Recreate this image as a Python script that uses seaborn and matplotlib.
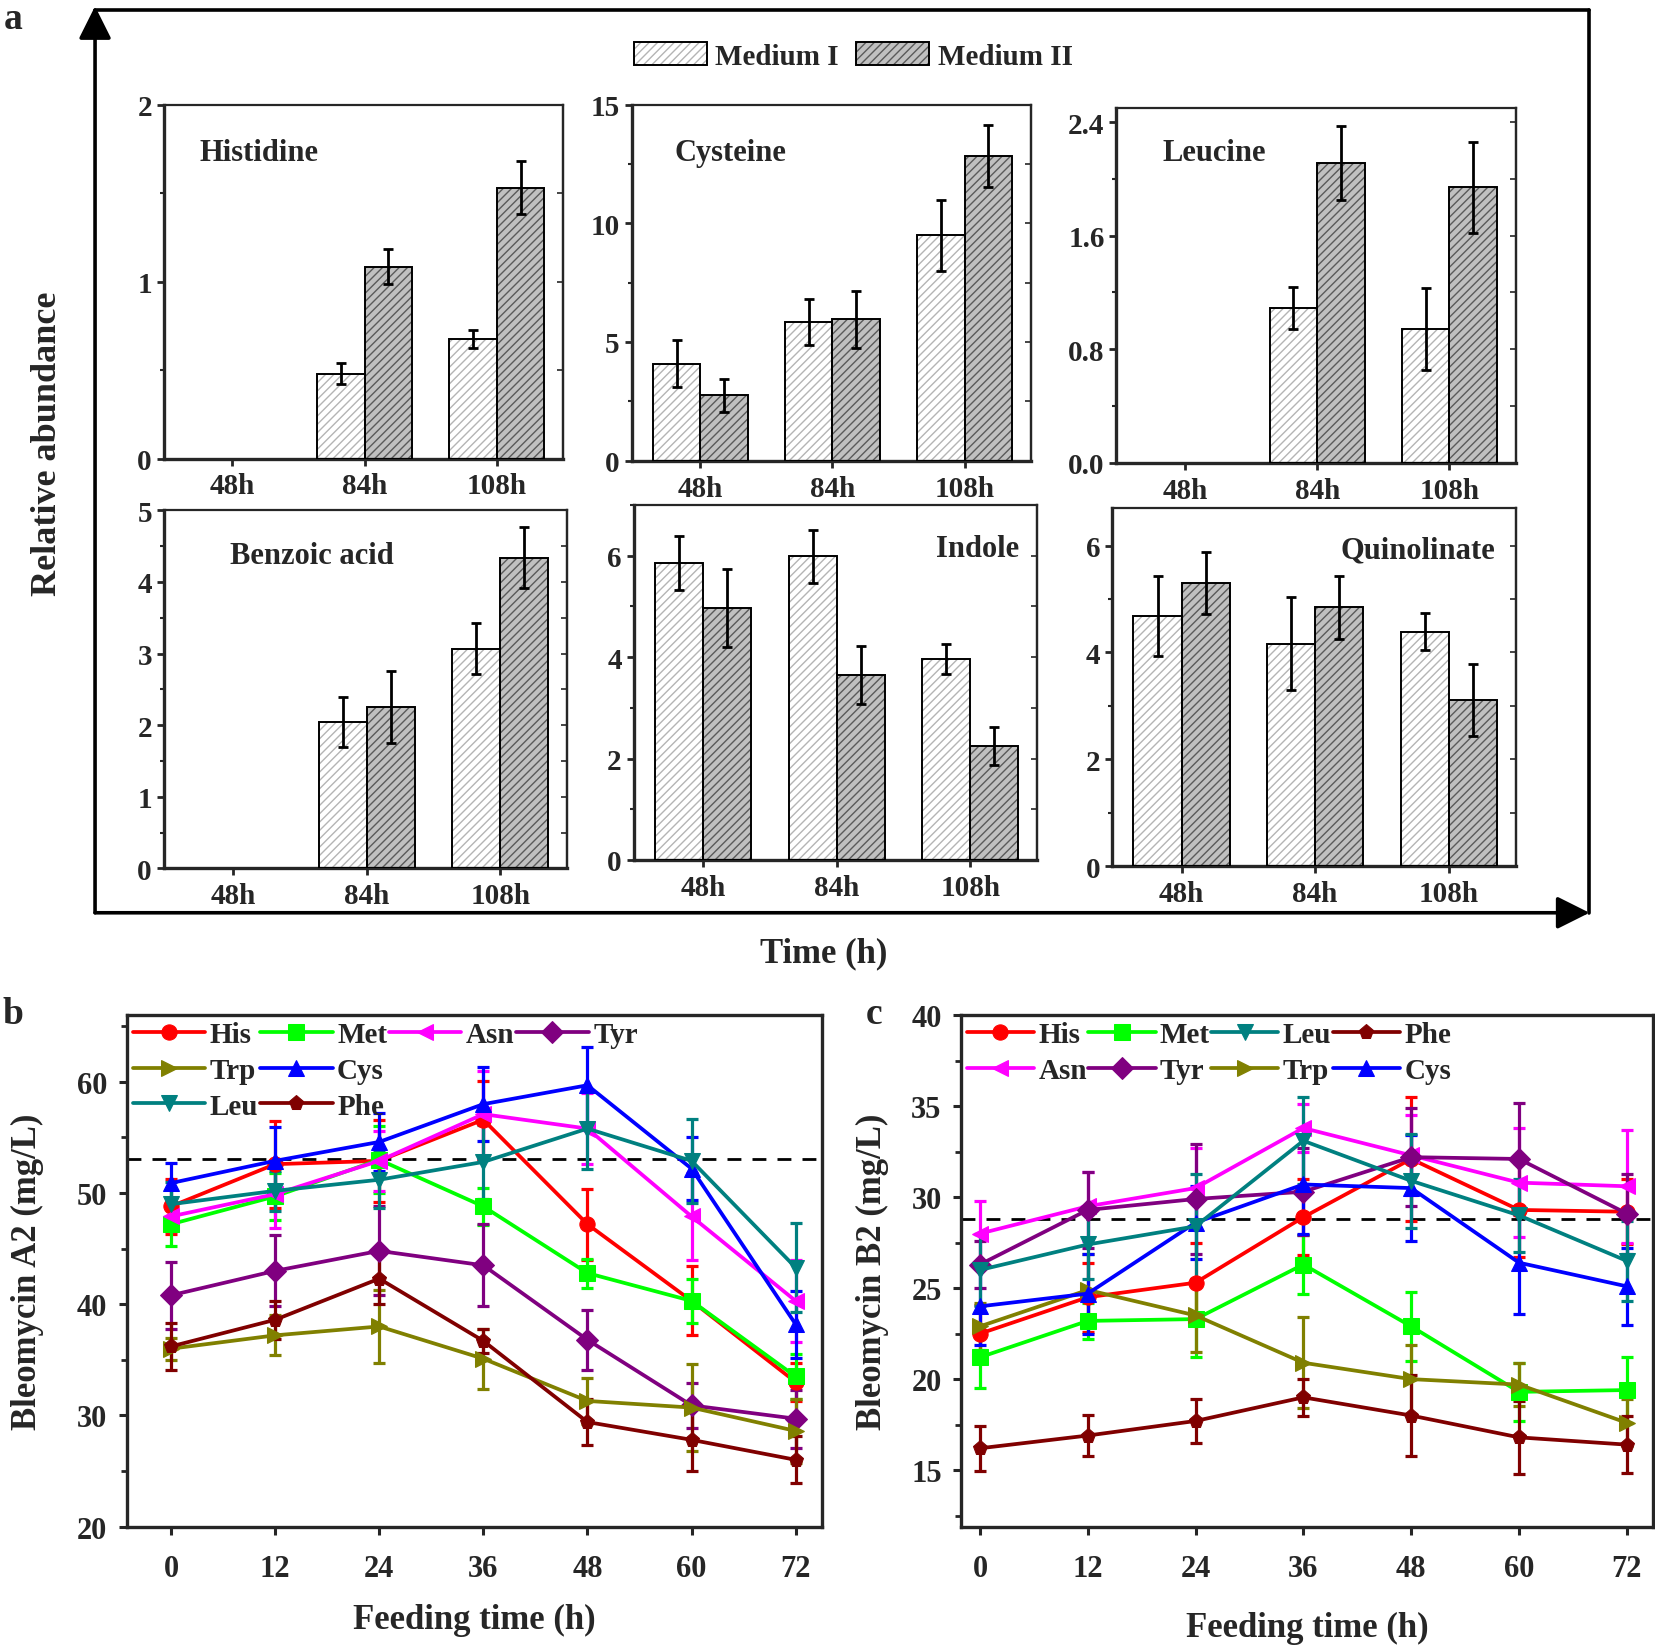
import numpy as np
import pandas as pd
import matplotlib
matplotlib.use('Agg')
import matplotlib.pyplot as plt
import matplotlib.colors as mcolors
import seaborn as sns
from matplotlib.patches import Rectangle, Patch, FancyArrowPatch
from matplotlib.lines import Line2D
from matplotlib.ticker import MultipleLocator

# ---------------- data: panel a ----------------
times_a = ['48h', '84h', '108h']
media = ['Medium I', 'Medium II']

his_m1 = [0.0, 0.48, 0.675]
his_m2 = [0.0, 1.085, 1.53]
his_e1 = [0.0, 0.06, 0.05]
his_e2 = [0.0, 0.10, 0.15]

cys_m1 = [4.09, 5.84, 9.49]
cys_m2 = [2.76, 5.95, 12.83]
cys_e1 = [1.0, 0.95, 1.5]
cys_e2 = [0.7, 1.2, 1.3]

leu_m1 = [0.0, 1.09, 0.94]
leu_m2 = [0.0, 2.11, 1.94]
leu_e1 = [0.0, 0.15, 0.29]
leu_e2 = [0.0, 0.26, 0.32]

ben_m1 = [0.0, 2.04, 3.07]
ben_m2 = [0.0, 2.25, 4.34]
ben_e1 = [0.0, 0.35, 0.36]
ben_e2 = [0.0, 0.50, 0.43]

ind_m1 = [5.86, 5.99, 3.96]
ind_m2 = [4.96, 3.64, 2.25]
ind_e1 = [0.53, 0.52, 0.29]
ind_e2 = [0.77, 0.57, 0.37]

qui_m1 = [4.68, 4.16, 4.39]
qui_m2 = [5.30, 4.85, 3.11]
qui_e1 = [0.75, 0.87, 0.35]
qui_e2 = [0.58, 0.59, 0.67]

# ---------------- data: panels b, c ----------------
feed_t = [0, 12, 24, 36, 48, 60, 72]

a2_his = [48.8, 52.6, 52.9, 56.6, 47.2, 40.3, 33.0]
a2_met = [47.2, 49.7, 53.0, 48.8, 42.8, 40.3, 33.5]
a2_asn = [47.9, 49.9, 52.9, 57.1, 55.8, 47.9, 40.3]
a2_tyr = [40.8, 43.0, 44.8, 43.5, 36.8, 30.9, 29.7]
a2_trp = [36.0, 37.2, 38.0, 35.1, 31.3, 30.7, 28.6]
a2_cys = [50.9, 52.9, 54.6, 58.0, 59.7, 52.2, 38.2]
a2_leu = [49.0, 50.2, 51.2, 52.8, 55.8, 52.9, 43.3]
a2_phe = [36.2, 38.6, 42.3, 36.7, 29.4, 27.8, 26.0]

a2_his_e = [2.5, 3.9, 3.7, 3.5, 3.2, 3.1, 1.7]
a2_met_e = [2.0, 2.1, 3.0, 1.7, 1.3, 2.0, 2.0]
a2_asn_e = [1.3, 3.0, 2.7, 3.9, 3.2, 3.9, 3.7]
a2_tyr_e = [3.0, 3.2, 4.0, 3.7, 2.7, 2.0, 2.6]
a2_trp_e = [1.0, 1.8, 3.3, 2.7, 2.1, 3.9, 2.9]
a2_cys_e = [1.8, 3.0, 2.6, 3.3, 3.4, 2.8, 3.0]
a2_leu_e = [2.0, 1.8, 2.5, 3.3, 3.6, 3.8, 4.0]
a2_phe_e = [2.1, 1.7, 2.3, 1.1, 2.1, 2.8, 2.1]

b2_his = [22.5, 24.5, 25.3, 28.9, 32.1, 29.3, 29.2]
b2_met = [21.2, 23.2, 23.3, 26.3, 22.9, 19.3, 19.4]
b2_leu = [26.0, 27.4, 28.4, 33.1, 30.9, 29.0, 26.5]
b2_phe = [16.2, 16.9, 17.7, 19.0, 18.0, 16.8, 16.4]
b2_asn = [28.0, 29.5, 30.5, 33.8, 32.3, 30.8, 30.6]
b2_tyr = [26.3, 29.3, 29.9, 30.3, 32.2, 32.1, 29.1]
b2_trp = [22.9, 24.9, 23.5, 20.9, 20.0, 19.7, 17.6]
b2_cys = [24.0, 24.7, 28.6, 30.7, 30.5, 26.4, 25.1]

b2_his_e = [1.6, 1.9, 2.2, 2.1, 3.4, 2.6, 1.8]
b2_met_e = [1.7, 1.0, 2.1, 1.6, 1.9, 1.6, 1.8]
b2_leu_e = [2.0, 1.9, 2.9, 2.4, 2.6, 2.0, 2.2]
b2_phe_e = [1.25, 1.15, 1.2, 1.0, 2.2, 2.0, 1.55]
b2_asn_e = [1.8, 1.9, 2.2, 1.3, 2.2, 3.0, 3.1]
b2_tyr_e = [1.3, 2.1, 3.0, 2.4, 2.7, 3.1, 2.2]
b2_trp_e = [1.3, 2.0, 2.0, 2.5, 1.9, 1.2, 1.3]
b2_cys_e = [2.1, 2.2, 2.0, 2.7, 2.9, 2.8, 2.1]

a2_ref = 53.1
b2_ref = 28.8

aa_names = ['His', 'Met', 'Asn', 'Tyr', 'Trp', 'Cys', 'Leu', 'Phe']

# ---------------- styles ----------------
aa_colors = {'His': '#ff0000', 'Met': '#00ff00', 'Asn': '#ff00ff', 'Tyr': '#800080',
             'Trp': '#808000', 'Cys': '#0000ff', 'Leu': '#008080', 'Phe': '#800000'}
aa_markers = {'His': 'o', 'Met': 's', 'Asn': '<', 'Tyr': 'D',
              'Trp': '>', 'Cys': '^', 'Leu': 'v', 'Phe': 'p'}

sns.set_style('ticks')
plt.rcParams['font.family'] = ['Liberation Serif', 'DejaVu Serif']
plt.rcParams['font.weight'] = 'bold'
plt.rcParams['axes.labelweight'] = 'bold'
plt.rcParams['hatch.linewidth'] = 1.0

fig = plt.figure(figsize=(16.56, 16.49), dpi=100)

fill_col = {'Medium I': '#ffffff', 'Medium II': '#c0c0c0'}
hatch_col = {'Medium I': '#b4b4b4', 'Medium II': '#5a5a5a'}
HATCH = '////'


def bar_panel(rect, m1, m2, e1, e2, ylim, major, minor, fmt, title, tx, ty, ha):
    ax = fig.add_axes(rect)
    df = pd.DataFrame({'time': times_a * 2,
                       'medium': [media[0]] * 3 + [media[1]] * 3,
                       'value': list(m1) + list(m2),
                       'err': list(e1) + list(e2)})
    sns.barplot(data=df, x='time', y='value', hue='medium', order=times_a,
                hue_order=media, palette=fill_col, width=0.72, gap=0,
                errorbar=None, legend=False, saturation=1, ax=ax)
    patches = list(ax.patches)
    for p in patches:
        xc = p.get_x() + p.get_width() / 2
        cat = int(round(xc))
        med = media[0] if xc < cat else media[1]
        row = df[(df['time'] == times_a[cat]) & (df['medium'] == med)].iloc[0]
        p.set_facecolor(fill_col[med])
        p.set_edgecolor(hatch_col[med])
        p.set_hatch(HATCH)
        p.set_linewidth(0)
        if row['value'] > 0:
            ax.add_patch(Rectangle((p.get_x(), p.get_y()), p.get_width(), p.get_height(),
                                   fill=False, edgecolor='black', lw=1.4, zorder=3))
            ax.errorbar([xc], [row['value']], yerr=[row['err']], fmt='none',
                        ecolor='black', elinewidth=2.0, capsize=3.5, capthick=2.0, zorder=4)
    ax.set_xlim(-0.52, 2.5)
    ax.set_ylim(*ylim)
    ax.yaxis.set_major_locator(MultipleLocator(major))
    ax.yaxis.set_minor_locator(MultipleLocator(minor))
    ax.yaxis.set_major_formatter(matplotlib.ticker.FormatStrFormatter(fmt))
    ax.set_xlabel('')
    ax.set_ylabel('')
    for s in ['left', 'bottom']:
        ax.spines[s].set_linewidth(2.4)
    for s in ['top', 'right']:
        ax.spines[s].set_linewidth(1.6)
    ax.tick_params(axis='both', which='major', direction='out', length=5, width=2,
                   labelsize=21)
    ax.tick_params(axis='x', which='major', pad=5)
    ax.tick_params(axis='y', which='minor', direction='out', length=3, width=1.5)
    for lab in ax.get_xticklabels() + ax.get_yticklabels():
        lab.set_fontweight('bold')
    sec = ax.secondary_yaxis('right')
    sec.yaxis.set_major_locator(MultipleLocator(minor))
    sec.tick_params(direction='in', length=4, width=1.2, labelright=False)
    sec.spines['right'].set_linewidth(1.6)
    ax.text(tx, ty, title, transform=ax.transAxes, ha=ha, va='center',
            fontsize=22, fontweight='bold')
    return ax


F_W, F_H = 1568.0, 1561.0


def rect_from(l, r, t, b):
    return [l / F_W, 1 - b / F_H, (r - l) / F_W, (b - t) / F_H]


bar_panel(rect_from(155, 533, 100, 435), his_m1, his_m2, his_e1, his_e2,
          (0, 2), 1, 0.5, '%g', 'Histidine', 0.09, 0.866, 'left')
bar_panel(rect_from(598, 976, 100, 437), cys_m1, cys_m2, cys_e1, cys_e2,
          (0, 15), 5, 2.5, '%g', 'Cysteine', 0.108, 0.866, 'left')
bar_panel(rect_from(1057, 1435, 103, 439), leu_m1, leu_m2, leu_e1, leu_e2,
          (0, 2.5), 0.8, 0.4, '%.1f', 'Leucine', 0.116, 0.875, 'left')
bar_panel(rect_from(155, 537, 484, 823), ben_m1, ben_m2, ben_e1, ben_e2,
          (0, 5), 1, 0.5, '%g', 'Benzoic acid', 0.165, 0.873, 'left')
bar_panel(rect_from(600, 982, 479, 815), ind_m1, ind_m2, ind_e1, ind_e2,
          (0, 7), 2, 1, '%g', 'Indole', 0.955, 0.878, 'right')
bar_panel(rect_from(1053, 1435, 482, 821), qui_m1, qui_m2, qui_e1, qui_e2,
          (0, 6.7), 2, 1, '%g', 'Quinolinate', 0.95, 0.882, 'right')

# legend of panel a
leg_handles = []
for m in media:
    fill = Patch(facecolor=fill_col[m], edgecolor=hatch_col[m], hatch=HATCH, lw=0)
    outline = Patch(facecolor='none', edgecolor='black', lw=1.4)
    leg_handles.append((fill, outline))
fig.legend(leg_handles, ['Medium I', 'Medium II'], ncol=2, loc='center',
           bbox_to_anchor=(808 / F_W, 1 - 54 / F_H), frameon=False,
           prop={'size': 21, 'weight': 'bold'}, handlelength=2.5, handleheight=0.8,
           handletextpad=0.3, columnspacing=0.6,
           handler_map={tuple: matplotlib.legend_handler.HandlerTuple(ndivide=1)})

# frame with arrows for panel a
fx0, fx1 = 90 / F_W, 1505 / F_W
fy0, fy1 = 1 - 865 / F_H, 1 - 10 / F_H
fig.add_artist(Line2D([fx0, fx1], [fy1, fy1], transform=fig.transFigure, color='k', lw=2.6))
fig.add_artist(Line2D([fx1, fx1], [fy1, fy0], transform=fig.transFigure, color='k', lw=2.6))
fig.add_artist(FancyArrowPatch((fx0, fy0), (fx0, fy1 + 0.002), transform=fig.transFigure,
                               arrowstyle='-|>,head_length=1.0,head_width=0.5',
                               mutation_scale=20, lw=2.6, color='k', shrinkA=0, shrinkB=0))
fig.add_artist(FancyArrowPatch((fx0, fy0), (fx1, fy0), transform=fig.transFigure,
                               arrowstyle='-|>,head_length=1.0,head_width=0.5',
                               mutation_scale=20, lw=2.6, color='k', shrinkA=0, shrinkB=0))
fig.text(45 / F_W, 1 - 420 / F_H, 'Relative abundance', rotation=90, ha='center',
         va='center', fontsize=26, fontweight='bold')
fig.text(780 / F_W, 1 - 903 / F_H, 'Time (h)', ha='center', va='center',
         fontsize=25, fontweight='bold')
fig.text(12 / F_W, 1 - 18 / F_H, 'a', ha='center', va='center', fontsize=27, fontweight='bold')
fig.text(12 / F_W, 1 - 960 / F_H, 'b', ha='center', va='center', fontsize=27, fontweight='bold')
fig.text(828 / F_W, 1 - 960 / F_H, 'c', ha='center', va='center', fontsize=27, fontweight='bold')


def line_panel(rect, series, errs, ref, ylim, xlim, major, minor, ylabel, legend_order,
               ncol, ylabelpad, xlabelpad, hlen):
    ax = fig.add_axes(rect)
    rows = []
    for name in aa_names:
        for t, v in zip(feed_t, series[name]):
            rows.append({'t': t, 'v': v, 'aa': name})
    df = pd.DataFrame(rows)
    sns.lineplot(data=df, x='t', y='v', hue='aa', style='aa', hue_order=aa_names,
                 style_order=aa_names, palette=aa_colors, markers=aa_markers,
                 dashes=False, errorbar=None, legend=False, sort=False,
                 linewidth=2.7, markersize=11, ax=ax)
    handle = {}
    for ln in list(ax.lines):
        c = mcolors.to_hex(ln.get_color())
        for name in aa_names:
            if mcolors.to_hex(aa_colors[name]) == c:
                handle[name] = ln
                ln.set_markeredgecolor(aa_colors[name])
                ln.set_markerfacecolor(aa_colors[name])
                ln.set_zorder(3)
    for name in aa_names:
        ax.errorbar(feed_t, series[name], yerr=errs[name], fmt='none',
                    ecolor=aa_colors[name], elinewidth=2.3, capsize=4.5,
                    capthick=2.3, zorder=2.5)
    ax.axhline(ref, color='black', lw=2.0, dashes=(5, 4), zorder=1)
    ax.set_xlim(*xlim)
    ax.set_ylim(*ylim)
    ax.set_xticks(feed_t)
    ax.yaxis.set_major_locator(MultipleLocator(major))
    ax.yaxis.set_minor_locator(MultipleLocator(minor))
    for s in ax.spines.values():
        s.set_linewidth(2.4)
    ax.tick_params(axis='both', which='major', direction='out', length=6, width=2.2,
                   labelsize=22, pad=8)
    ax.tick_params(axis='x', which='major', pad=14)
    ax.tick_params(axis='y', which='minor', direction='out', length=4, width=2.0)
    for lab in ax.get_xticklabels() + ax.get_yticklabels():
        lab.set_fontweight('bold')
    ax.set_xlabel('Feeding time (h)', fontsize=25, fontweight='bold', labelpad=xlabelpad)
    ax.set_ylabel(ylabel, fontsize=25, fontweight='bold', labelpad=ylabelpad)
    hs, ls = [], []
    for name in legend_order:
        if name is None:
            hs.append(Line2D([], [], linestyle='none', marker='none'))
            ls.append('')
        else:
            hs.append(handle[name])
            ls.append(name)
    ax.legend(hs, ls, ncol=ncol, loc='upper left', bbox_to_anchor=(0.0, 1.0),
              frameon=False, prop={'size': 21, 'weight': 'bold'}, handlelength=hlen,
              handletextpad=0.15, columnspacing=0.05, labelspacing=0.3,
              borderaxespad=0.1, borderpad=0.1)
    return ax


a2_series = {'His': a2_his, 'Met': a2_met, 'Asn': a2_asn, 'Tyr': a2_tyr,
             'Trp': a2_trp, 'Cys': a2_cys, 'Leu': a2_leu, 'Phe': a2_phe}
a2_errs = {'His': a2_his_e, 'Met': a2_met_e, 'Asn': a2_asn_e, 'Tyr': a2_tyr_e,
           'Trp': a2_trp_e, 'Cys': a2_cys_e, 'Leu': a2_leu_e, 'Phe': a2_phe_e}
b2_series = {'His': b2_his, 'Met': b2_met, 'Asn': b2_asn, 'Tyr': b2_tyr,
             'Trp': b2_trp, 'Cys': b2_cys, 'Leu': b2_leu, 'Phe': b2_phe}
b2_errs = {'His': b2_his_e, 'Met': b2_met_e, 'Asn': b2_asn_e, 'Tyr': b2_tyr_e,
           'Trp': b2_trp_e, 'Cys': b2_cys_e, 'Leu': b2_leu_e, 'Phe': b2_phe_e}

line_panel(rect_from(120, 778, 962, 1446), a2_series, a2_errs, a2_ref, (20, 66),
           (-5.1, 75), 10, 5, 'Bleomycin A2 (mg/L)',
           ['His', 'Trp', 'Leu', 'Met', 'Cys', 'Phe', 'Asn', None, None, 'Tyr', None, None], 4,
           24, 14, 2.5)
line_panel(rect_from(910, 1565, 962, 1446), b2_series, b2_errs, b2_ref, (11.9, 40),
           (-2.1, 74.9), 5, 2.5, 'Bleomycin B2 (mg/L)',
           ['His', 'Asn', 'Met', 'Tyr', 'Leu', 'Trp', 'Phe', 'Cys'], 4,
           16, 20, 2.3)

fig.savefig('out.png', dpi=100)
